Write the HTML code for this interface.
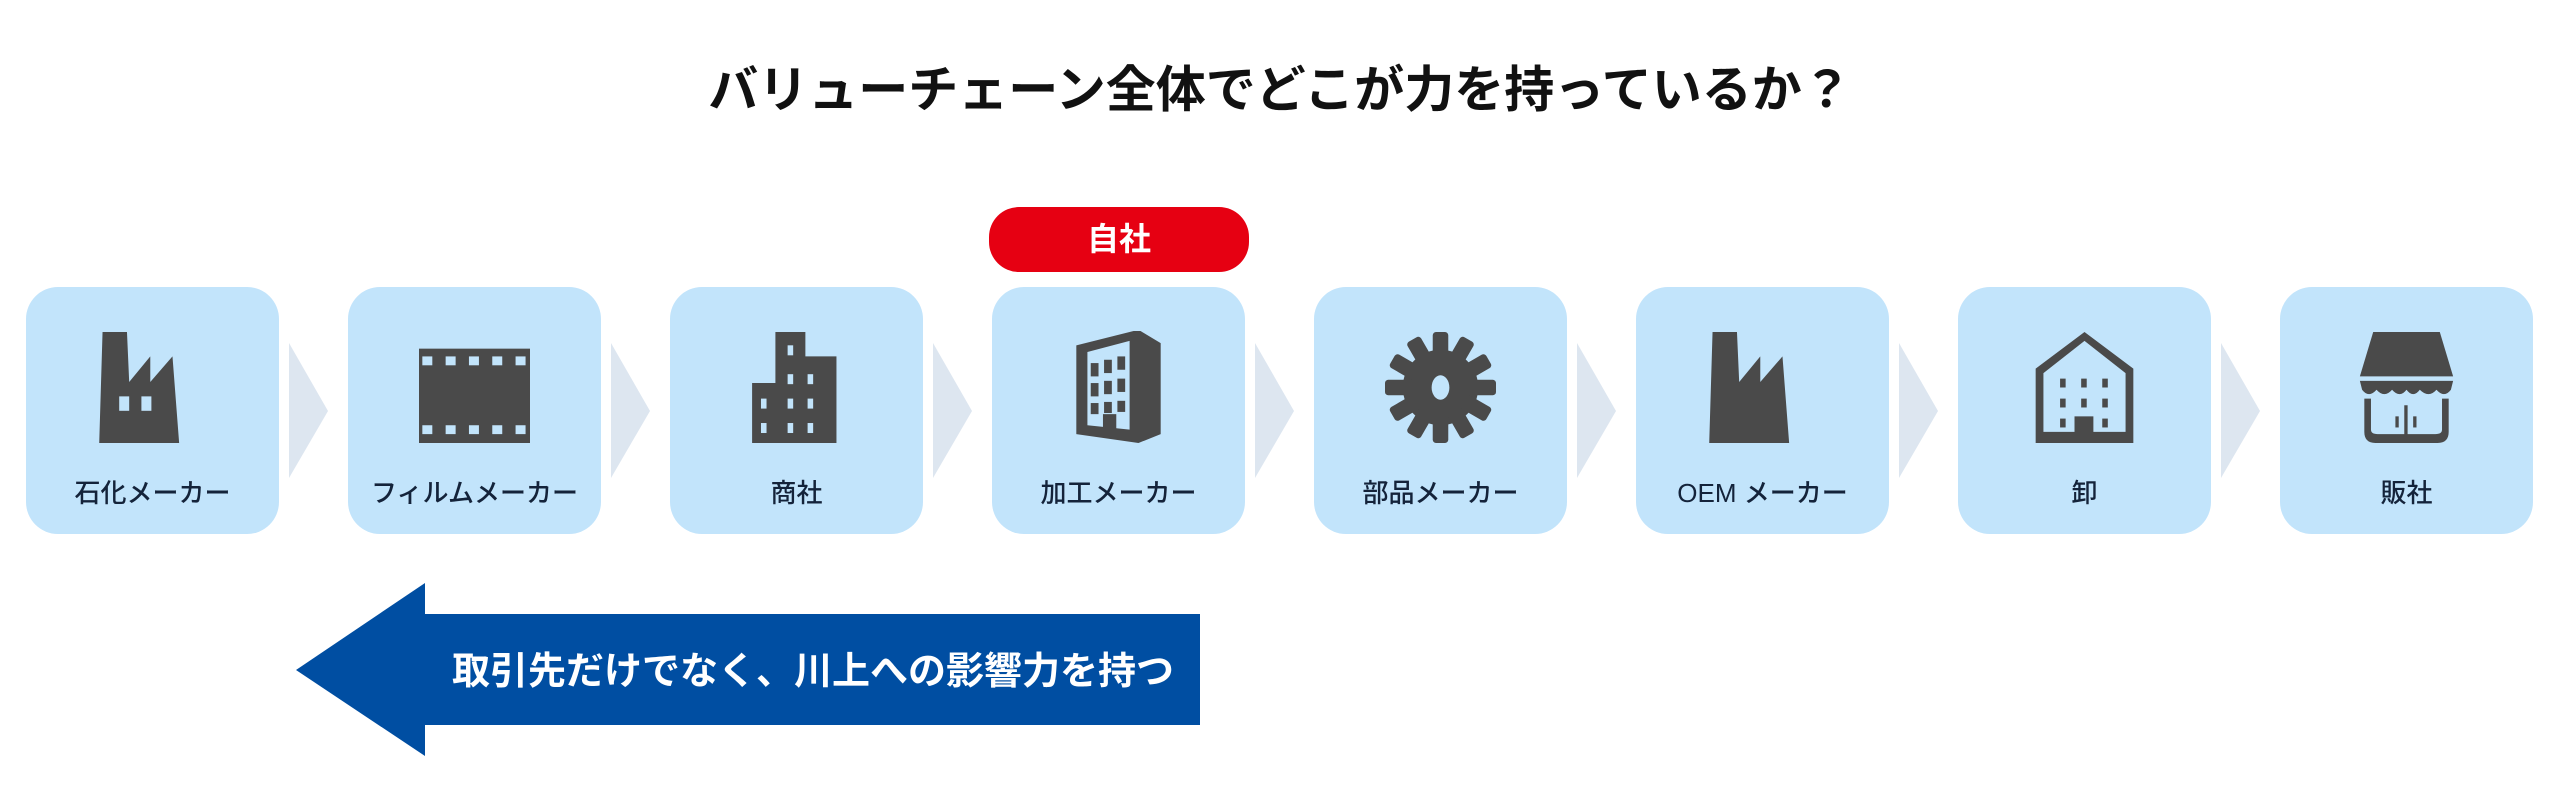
<!DOCTYPE html>
<html><head><meta charset="utf-8"><style>
body{margin:0;width:2560px;height:801px;background:#fff;position:relative;overflow:hidden;font-family:"Liberation Sans","Noto Sans CJK JP",sans-serif;}
.t{position:absolute;left:0;width:2560px;top:50px;text-align:center;font-size:50px;font-weight:bold;color:#111;letter-spacing:0px}
.box{position:absolute;top:287px;width:253px;height:247px;background:#c2e4fb;border-radius:32px}
.box svg{position:absolute;left:71px;top:44px;width:111px;height:113px}
.lb{position:absolute;left:0;right:0;top:186px;text-align:center;font-size:26px;color:#14233a;font-weight:500}
</style></head><body>
<div class="t">バリューチェーン全体でどこが力を持っているか？</div>
<div style="position:absolute;left:989px;top:207px;width:260px;height:65px;background:#e60012;border-radius:30px;color:#fff;font-size:32px;font-weight:bold;text-align:center;line-height:65px">自社</div>

<div class="box" style="left:26px"><svg viewBox="0 0 100 100"><polygon fill="#4a4a4a" points="2,100 5,0 27,0 29,45 48,22 48,45 68,22 74,100"/><rect x="20" y="58" width="9" height="13" fill="#c2e4fb"/><rect x="40" y="58" width="9" height="13" fill="#c2e4fb"/></svg><div class="lb">石化メーカー</div></div>
<div class="box" style="left:348px"><svg viewBox="0 0 100 100"><rect x="-3" y="15" width="106" height="85" fill="#4a4a4a"/><g fill="#c2e4fb"><rect x="3" y="22" width="9" height="8"/><rect x="24" y="22" width="9" height="8"/><rect x="45" y="22" width="9" height="8"/><rect x="66" y="22" width="9" height="8"/><rect x="87" y="22" width="9" height="8"/><rect x="3" y="84" width="9" height="8"/><rect x="24" y="84" width="9" height="8"/><rect x="45" y="84" width="9" height="8"/><rect x="66" y="84" width="9" height="8"/><rect x="87" y="84" width="9" height="8"/></g></svg><div class="lb">フィルムメーカー</div></div>
<div class="box" style="left:670px"><svg viewBox="0 0 100 100"><path fill="#4a4a4a" d="M10,100V46H31V0H58V22H86V100Z"/><g fill="#c2e4fb"><rect x="42" y="12" width="5" height="9"/><rect x="42" y="38" width="5" height="9"/><rect x="60" y="38" width="5" height="9"/><rect x="18" y="60" width="5" height="9"/><rect x="42" y="60" width="5" height="9"/><rect x="60" y="60" width="5" height="9"/><rect x="18" y="82" width="5" height="9"/><rect x="42" y="82" width="5" height="9"/><rect x="60" y="82" width="5" height="9"/></g></svg><div class="lb">商社</div></div>
<div class="box" style="left:992px"><svg viewBox="0 0 100 100"><path fill="#4a4a4a" d="M12,12L68,-2L88,10V92L68,100L12,92Z"/><path fill="#c2e4fb" d="M22,18L60,8V88L22,84Z"/><g fill="#4a4a4a"><rect x="25" y="28" width="7" height="12"/><rect x="37" y="25" width="7" height="12"/><rect x="49" y="22" width="7" height="12"/><rect x="25" y="46" width="7" height="12"/><rect x="37" y="44" width="7" height="12"/><rect x="49" y="42" width="7" height="12"/><rect x="25" y="64" width="7" height="10"/><rect x="37" y="63" width="7" height="10"/><rect x="49" y="62" width="7" height="10"/><rect x="36" y="74" width="12" height="14"/></g></svg><div class="lb">加工メーカー</div></div>
<div class="box" style="left:1314px"><svg viewBox="0 0 100 100"><g fill="#4a4a4a"><circle cx="50" cy="50" r="34"/><rect x="43" y="0" width="14" height="100" rx="3"/><rect x="43" y="0" width="14" height="100" rx="3" transform="rotate(60 50 50)"/><rect x="43" y="0" width="14" height="100" rx="3" transform="rotate(-60 50 50)"/><rect x="0" y="43" width="100" height="14" rx="3"/><rect x="43" y="0" width="14" height="100" rx="3" transform="rotate(30 50 50)"/><rect x="43" y="0" width="14" height="100" rx="3" transform="rotate(-30 50 50)"/></g><ellipse cx="50" cy="50" rx="8" ry="11" fill="#c2e4fb"/></svg><div class="lb">部品メーカー</div></div>
<div class="box" style="left:1636px"><svg viewBox="0 0 100 100"><polygon fill="#4a4a4a" points="2,100 5,0 27,0 29,45 48,22 48,45 68,22 74,100"/></svg><div class="lb">OEM メーカー</div></div>
<div class="box" style="left:1958px"><svg viewBox="0 0 100 100"><path fill="#4a4a4a" d="M6,33L50,0L94,33V100H6Z"/><path fill="#c2e4fb" d="M13,37L50,8L87,37V90H13Z"/><g fill="#4a4a4a"><rect x="28" y="42" width="5" height="8"/><rect x="47" y="42" width="5" height="8"/><rect x="66" y="42" width="5" height="8"/><rect x="28" y="60" width="5" height="8"/><rect x="47" y="60" width="5" height="8"/><rect x="66" y="60" width="5" height="8"/><rect x="28" y="78" width="5" height="8"/><rect x="66" y="78" width="5" height="8"/><rect x="41" y="76" width="17" height="18"/></g></svg><div class="lb">卸</div></div>
<div class="box" style="left:2280px"><svg viewBox="0 0 100 100"><g fill="#4a4a4a"><path d="M20,0H80L92,40H8Z"/><path d="M8,44H92L90,52Q84,60 77,52Q70,60 62,52Q56,60 50,52Q44,60 37,52Q30,60 23,52Q16,60 10,52Z"/><path d="M12,60H18V88Q18,92 24,92H76Q82,92 82,88V60H88V90Q88,100 78,100H22Q12,100 12,90Z"/><rect x="48" y="66" width="3" height="28"/><rect x="40" y="76" width="3" height="10"/><rect x="56" y="76" width="3" height="10"/></g></svg><div class="lb">販社</div></div>

<svg style="position:absolute;left:0;top:0" width="2560" height="801">
<g fill="#dde6f0">
<polygon points="289,343 328,411 289,478"/><polygon points="611,343 650,411 611,478"/><polygon points="933,343 972,411 933,478"/><polygon points="1255,343 1294,411 1255,478"/><polygon points="1577,343 1616,411 1577,478"/><polygon points="1899,343 1938,411 1899,478"/><polygon points="2221,343 2260,411 2221,478"/>
</g>
<polygon fill="#004ea2" points="296,670 425,583 425,614 1200,614 1200,725 425,725 425,756"/>
<text x="452" y="684" fill="#fff" font-size="38" font-weight="bold" font-family="Liberation Sans, Noto Sans CJK JP, sans-serif">取引先だけでなく、川上への影響力を持つ</text>
</svg>
</body></html>
